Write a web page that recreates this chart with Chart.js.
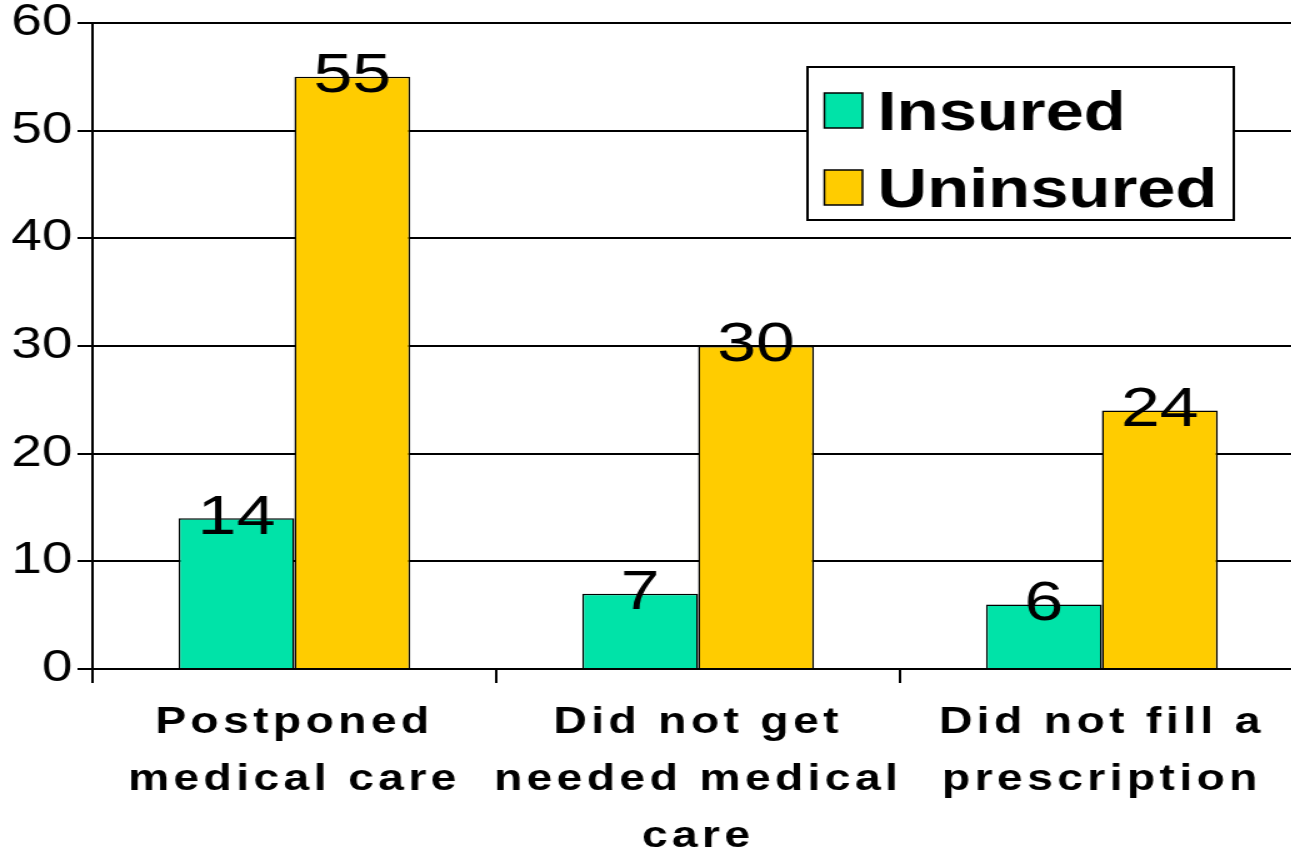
<!DOCTYPE html>
<html>
<head>
<meta charset="utf-8">
<script src="https://cdn.jsdelivr.net/npm/chart.js@4.4.1/dist/chart.umd.min.js"></script>
<style>
  html, body { margin: 0; padding: 0; background: #fff; overflow: hidden; }
  #wrap { width: 1291px; height: 853px; overflow: hidden; background: #fff; }
</style>
</head>
<body>
<!-- the source picture is a wide-stretched slide, so the canvas is drawn narrower and stretched back out -->
<div id="wrap"><canvas id="chart" width="1056" height="853" style="width:1320px;height:853px"></canvas></div>
<script>
var categories = [
    ['Postponed', 'medical care'],
    ['Did not get', 'needed medical', 'care'],
    ['Did not fill a', 'prescription']
];
var insured = [14, 7, 6];
var uninsured = [55, 30, 24];
var yTicks = [0, 10, 20, 30, 40, 50, 60];

var FONT = "'Liberation Sans', Arial, Helvetica, sans-serif";

/**
 * Value on top of every bar, plus letter spacing for the category labels
 * (x axis labels are drawn after the datasets, z: 1).
 */
var valueLabels = {
    id: 'valueLabels',
    beforeDraw: function(chart) {
        chart.ctx.letterSpacing = '0px';
    },
    afterDatasetsDraw: function(chart) {
        var ctx = chart.ctx;
        ctx.save();
        ctx.font = '56px ' + FONT;
        ctx.fillStyle = '#000';
        ctx.textAlign = 'center';
        ctx.textBaseline = 'middle';
        chart.data.datasets.forEach(function(ds, i) {
            chart.getDatasetMeta(i).data.forEach(function(bar, j) {
                ctx.fillText(String(ds.data[j]), bar.x, bar.y);
            });
        });
        ctx.restore();
        ctx.letterSpacing = '3.5px';
    },
    afterDraw: function(chart) {
        chart.ctx.letterSpacing = '0px';
    }
};

/**
 * Boxed legend inside the plot area.
 */
var boxLegend = {
    id: 'boxLegend',
    afterDraw: function(chart, args, opts) {
        var ctx = chart.ctx;
        ctx.save();
        ctx.fillStyle = '#fff';
        ctx.fillRect(opts.left, opts.top, opts.width, opts.height);
        ctx.lineWidth = 2;
        ctx.strokeStyle = '#000';
        ctx.strokeRect(opts.left, opts.top, opts.width, opts.height);

        chart.data.datasets.forEach(function(ds, i) {
            var cy = opts.top + opts.firstRow + i * opts.rowGap;
            var sx = opts.left + opts.swatchX;
            ctx.fillStyle = ds.backgroundColor;
            ctx.fillRect(sx, cy - opts.swatchH / 2, opts.swatchW, opts.swatchH);
            ctx.lineWidth = 1.5;
            ctx.strokeRect(sx, cy - opts.swatchH / 2, opts.swatchW, opts.swatchH);

            ctx.fillStyle = '#000';
            ctx.font = 'bold 55px ' + FONT;
            ctx.textAlign = 'left';
            ctx.textBaseline = 'alphabetic';
            ctx.fillText(ds.label, opts.left + opts.textX, cy + opts.baseline);
        });
        ctx.restore();
    }
};

new Chart(document.getElementById('chart').getContext('2d'), {
    type: 'bar',
    data: {
        labels: categories,
        datasets: [{
            label: 'Insured',
            data: insured,
            backgroundColor: '#00E3A8',
            borderColor: '#000',
            borderWidth: 1.5,
            categoryPercentage: 0.574,
            barPercentage: 1
        }, {
            label: 'Uninsured',
            data: uninsured,
            backgroundColor: '#FFCC00',
            borderColor: '#000',
            borderWidth: 1.5,
            categoryPercentage: 0.574,
            barPercentage: 1
        }]
    },
    options: {
        responsive: false,
        maintainAspectRatio: false,
        devicePixelRatio: 1,
        animation: false,
        layout: {
            padding: { left: 0, right: 13, top: 23, bottom: 0 }
        },
        scales: {
            x: {
                grid: {
                    drawOnChartArea: false,
                    drawTicks: true,
                    tickLength: 14,
                    color: '#000',
                    lineWidth: 2
                },
                border: { color: '#000', width: 2 },
                ticks: {
                    z: 1,
                    color: '#000',
                    maxRotation: 0,
                    autoSkip: false,
                    padding: 11,
                    font: { family: FONT, size: 37, weight: 'bold', lineHeight: '57px' }
                },
                afterFit: function(scale) {
                    scale.height = 184;
                }
            },
            y: {
                min: 0,
                max: 60,
                afterBuildTicks: function(axis) {
                    axis.ticks = yTicks.map(function(v) { return { value: v }; });
                },
                grid: {
                    color: '#000',
                    lineWidth: 2,
                    tickLength: 12
                },
                border: { color: '#000', width: 2 },
                ticks: {
                    color: '#000',
                    padding: 4,
                    // small line height so the top label does not push the plot area down
                    font: { family: FONT, size: 44, lineHeight: 0.8 }
                },
                afterFit: function(scale) {
                    scale.width = 74;
                }
            }
        },
        plugins: {
            legend: { display: false },
            tooltip: { enabled: false },
            boxLegend: {
                left: 646,
                top: 67,
                width: 341,
                height: 153,
                firstRow: 43.5,
                rowGap: 77,
                baseline: 19.5,
                swatchX: 13.5,
                swatchW: 30.5,
                swatchH: 35,
                textX: 56
            }
        }
    },
    plugins: [valueLabels, boxLegend]
});
</script>
</body>
</html>
